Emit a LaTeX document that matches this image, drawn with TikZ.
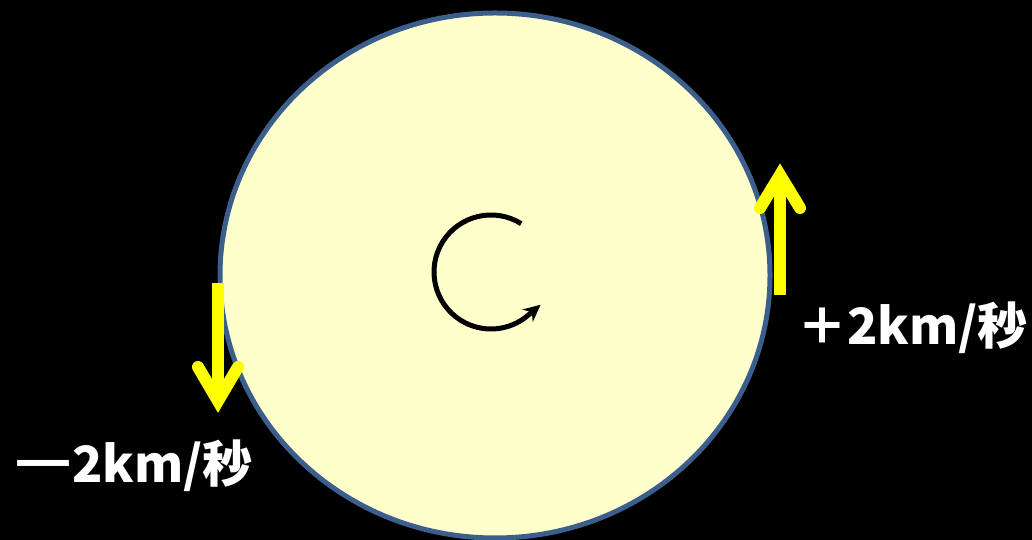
\documentclass[tikz,border=0pt]{standalone}
\usepackage{fontspec}
\usepackage{xcolor}
\usepackage{tikz}
\usetikzlibrary{arrows.meta, calc}
\newfontfamily\jpfont{Noto Sans CJK JP}
\definecolor{diskfill}{HTML}{FFFFCC}
\definecolor{diskdraw}{HTML}{3B5E8C}
\definecolor{velcol}{HTML}{FFFF00}
\tikzset{
  disk/.style={draw=diskdraw, fill=diskfill, line width=5pt},
  spin/.style={draw=black, line width=5pt, -{Stealth[length=17pt, width=16pt]}},
  vel/.style={draw=velcol, line width=12pt},
  velhead/.style={vel, line cap=round, line join=miter},
  vlabel/.style={text=white, inner sep=0pt, font=\jpfont\bfseries\fontsize{50}{60}\selectfont},
}

\begin{document}
\begin{tikzpicture}[x=1pt, y=1pt]
  % background
  \useasboundingbox (0,0) rectangle (1032,540);
  \fill[black] (0,0) rectangle (1032,540);

  % the star
  \coordinate (cen) at (495,264.5);
  \draw[disk] (cen) ellipse[x radius=275, y radius=262.5];

  % rotation sense
  \coordinate (spinc) at (491,268);
  \draw[spin] ($(spinc)+(58:57)$) arc[start angle=58, end angle=310, radius=57] -- ++(40:17);

  % approaching limb (right)
  \coordinate (rbase) at (780,245);
  \coordinate (rtip) at (780,365);
  \coordinate (rarml) at (760,332);
  \coordinate (rarmr) at (800,332);
  \draw[vel] (rbase) -- (rtip);
  \draw[velhead] (rarml) -- (rtip) -- (rarmr);

  % receding limb (left)
  \coordinate (lbase) at (218,257);
  \coordinate (ltip) at (218,139);
  \coordinate (larml) at (198,173);
  \coordinate (larmr) at (238,173);
  \draw[vel] (lbase) -- (ltip);
  \draw[velhead] (larml) -- (ltip) -- (larmr);

  % speeds
  \node[vlabel, anchor=base west] (rlab) at (797,195) {＋2km/秒};
  \node[vlabel, anchor=base west] (llab) at (6,57) {\scalebox{1.48}[1]{－}\kern-8pt 2km/秒};
\end{tikzpicture}
\end{document}
